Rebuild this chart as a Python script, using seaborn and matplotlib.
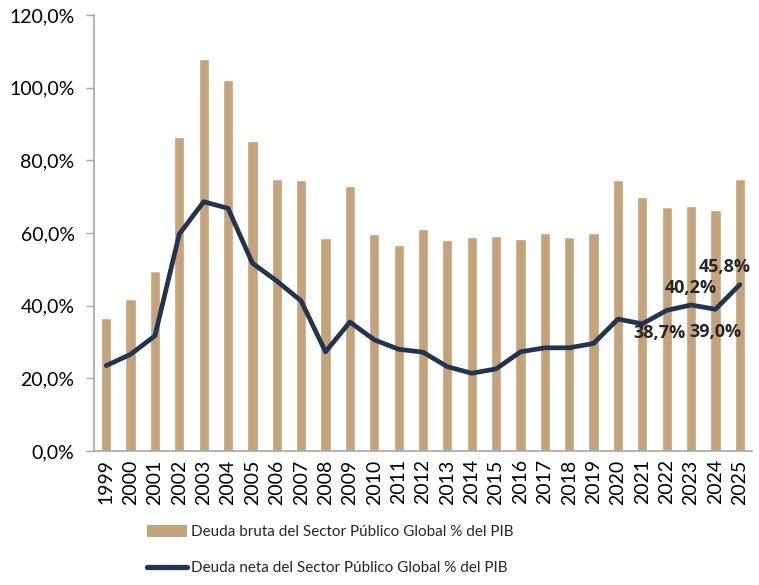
import numpy as np
import pandas as pd
import matplotlib
matplotlib.use("Agg")
import matplotlib.pyplot as plt
from matplotlib.patches import Patch
from matplotlib.lines import Line2D
from matplotlib.ticker import FuncFormatter, FixedLocator
import seaborn as sns

# --- DATA ---
years = [str(y) for y in range(1999, 2026)]
deuda_bruta = [36.7, 41.7, 49.6, 86.3, 107.8, 102.0, 85.2, 74.9, 74.5, 58.5,
               72.8, 59.7, 56.7, 61.1, 58.0, 58.9, 59.3, 58.3, 59.9, 59.0,
               60.0, 74.7, 69.9, 67.2, 67.5, 66.4, 75.0]
deuda_neta = [23.5, 26.6, 31.7, 59.7, 68.6, 66.8, 51.7, 46.8, 41.3, 27.3,
              35.5, 30.6, 28.0, 27.2, 23.2, 21.4, 22.6, 27.3, 28.4, 28.4,
              29.6, 36.3, 35.0, 38.7, 40.2, 39.0, 45.8]
label_bruta = "Deuda bruta del Sector Público Global % del PIB"
label_neta = "Deuda neta del Sector Público Global % del PIB"
# point labels shown on the chart: (year, text, above?, x-offset in pt)
point_labels = [("2022", "38,7%", False, -5), ("2023", "40,2%", True, 0),
                ("2024", "39,0%", False, 0), ("2025", "45,8%", True, -11)]

bar_color = "#C4A27A"
line_color = "#23344F"
axis_grey = "#A6A6A6"

sns.set_style("white")
plt.rcParams["font.family"] = ["Lato", "DejaVu Sans"]

df = pd.DataFrame({"year": years, "bruta": deuda_bruta, "neta": deuda_neta})
df["pos"] = np.arange(len(df))

fig = plt.figure(figsize=(7.59, 5.85), dpi=100)
ax = fig.add_axes([94 / 759, 1 - 451 / 585, (752 - 94) / 759, (451 - 15) / 585])

sns.barplot(data=df, x="year", y="bruta", color=bar_color, width=0.42,
            saturation=1, ax=ax)
sns.lineplot(data=df, x="pos", y="neta", color=line_color, linewidth=3.4,
             ax=ax, solid_joinstyle="round", solid_capstyle="round")

ax.set_xlim(-0.5, len(years) - 0.5)
ax.set_ylim(0, 120)
ax.set_yticks(np.arange(0, 121, 20))
ax.yaxis.set_major_formatter(FuncFormatter(lambda v, _: f"{v:.1f}%".replace(".", ",")))
ax.set_xticks(np.arange(len(years)))
ax.set_xticklabels(years, rotation=90)
ax.xaxis.set_minor_locator(FixedLocator(np.arange(-0.5, len(years), 1)))
ax.tick_params(axis="x", which="major", length=0, pad=6, labelsize=14, colors="black")
ax.tick_params(axis="x", which="minor", length=5, width=1, color=axis_grey, direction="out")
ax.tick_params(axis="y", length=6, width=1, color=axis_grey, direction="out",
               left=True, pad=8, labelsize=14, labelcolor="black")
ax.set_xlabel("")
ax.set_ylabel("")

for side in ["top", "right"]:
    ax.spines[side].set_visible(False)
for side in ["left", "bottom"]:
    ax.spines[side].set_color(axis_grey)
    ax.spines[side].set_linewidth(1.2)

# point labels
label_font = dict(fontsize=13, fontweight="bold", family=["Open Sans", "DejaVu Sans"])
for yr, txt, above, dx in point_labels:
    i = years.index(yr)
    v = deuda_neta[i]
    if above:
        ax.annotate(txt, (i, v), xytext=(dx, 6), textcoords="offset points",
                    ha="center", va="bottom", **label_font)
    else:
        ax.annotate(txt, (i, v), xytext=(dx, -10), textcoords="offset points",
                    ha="center", va="top", **label_font)

handles = [Patch(facecolor=bar_color, edgecolor="none"),
           Line2D([0], [0], color=line_color, linewidth=3.8, solid_capstyle="round")]
fig.legend(handles, [label_bruta, label_neta], loc="upper left",
           bbox_to_anchor=(141 / 759, 1 - 519 / 585), frameon=False,
           fontsize=11, handlelength=2.6, handleheight=0.85, handletextpad=0.3,
           labelspacing=1.4, borderaxespad=0)

fig.savefig("out.png", dpi=100)
